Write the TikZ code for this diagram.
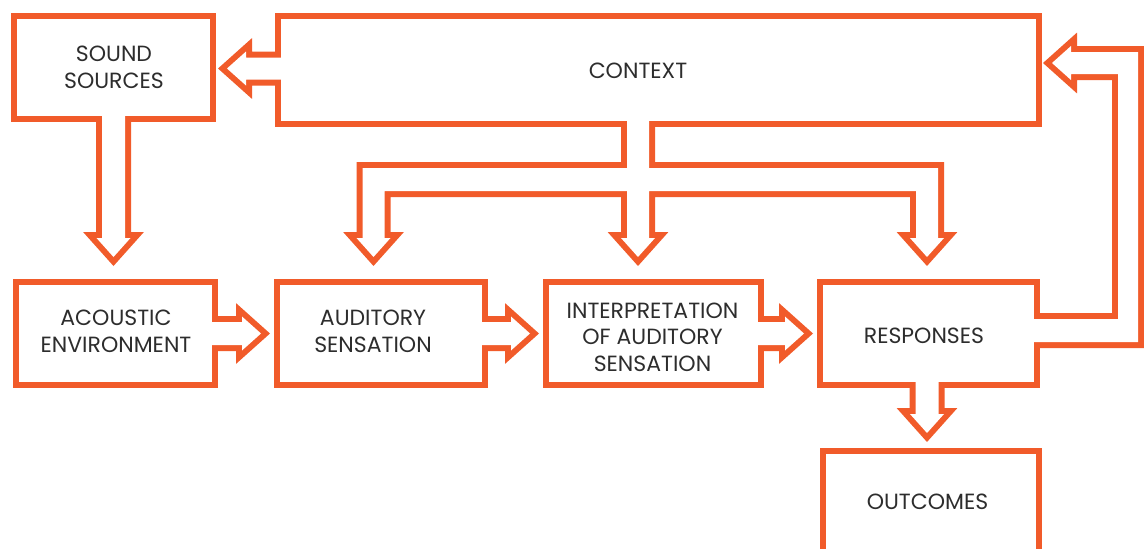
\documentclass[tikz,border=0pt]{standalone}
\usepackage{fontspec}
\setmainfont{Poppins}
\usetikzlibrary{calc,backgrounds}
\definecolor{brandorange}{RGB}{241,91,42}
\definecolor{txtgray}{RGB}{45,45,45}
% fat arrows: #1 options, #2 tail centre, #3 tip
\newcommand\fatdown[3]{\path[#1] ($(#2)+(-11.5,0)$) -- ($(#3)+(-11.5,-19)$) -- ($(#3)+(-17,-19)$) -- (#3) -- ($(#3)+(17,-19)$) -- ($(#3)+(11.5,-19)$) -- ($(#2)+(11.5,0)$) -- cycle;}
\newcommand\fatright[3]{\path[#1] ($(#2)+(0,-11.5)$) -- ($(#3)+(-19,-11.5)$) -- ($(#3)+(-19,-17)$) -- (#3) -- ($(#3)+(-19,17)$) -- ($(#3)+(-19,11.5)$) -- ($(#2)+(0,11.5)$) -- cycle;}
\newcommand\fatleft[3]{\path[#1] ($(#2)+(0,-11)$) -- ($(#3)+(19,-11)$) -- ($(#3)+(19,-17)$) -- (#3) -- ($(#3)+(19,17)$) -- ($(#3)+(19,11)$) -- ($(#2)+(0,11)$) -- cycle;}
\newcommand\allshapes[1]{%
  % boxes
  \path[#1] (ss.north west) rectangle (ss.south east);
  \path[#1] (ctx.north west) rectangle (ctx.south east);
  \path[#1] (ae.north west) rectangle (ae.south east);
  \path[#1] (as.north west) rectangle (as.south east);
  \path[#1] (ias.north west) rectangle (ias.south east);
  \path[#1] (rsp.north west) rectangle (rsp.south east);
  \path[#1] (out.north west) rectangle (out.south east);
  % straight fat arrows
  \fatdown{#1}{a1t}{a1h}
  \fatright{#1}{a2t}{a2h}
  \fatright{#1}{a3t}{a3h}
  \fatright{#1}{a4t}{a4h}
  \fatleft{#1}{a5t}{a5h}
  \fatdown{#1}{a6t}{a6h}
  % context tree
  \path[#1] ($(cstem)+(-11,-21)$)
    -- ($(cstem |- bandt)+(-11,0)$)
    -- ($(bl |- bandt)+(-11,0)$)
    -- ($(bl)+(-11,-19)$) -- ($(bl)+(-17,-19)$) -- (bl) -- ($(bl)+(17,-19)$) -- ($(bl)+(11,-19)$)
    -- ($(bl |- bandb)+(11,0)$)
    -- ($(cstem |- bandb)+(-11,0)$)
    -- ($(bm)+(-11,-19)$) -- ($(bm)+(-17,-19)$) -- (bm) -- ($(bm)+(17,-19)$) -- ($(bm)+(11,-19)$)
    -- ($(cstem |- bandb)+(11,0)$)
    -- ($(br |- bandb)+(-11,0)$)
    -- ($(br)+(-11,-19)$) -- ($(br)+(-17,-19)$) -- (br) -- ($(br)+(17,-19)$) -- ($(br)+(11,-19)$)
    -- ($(br |- bandt)+(11,0)$)
    -- ($(cstem |- bandt)+(11,0)$)
    -- ($(cstem)+(11,-21)$) -- cycle;
  % feedback pipe
  \path[#1] ($(fa)+(0,-11.5)$)
    -- ($(fc |- fa)+(-10,-11.5)$)
    -- ($(fc |- ft)+(-10,11)$)
    -- ($(ft)+(19,11)$) -- ($(ft)+(19,17)$) -- (ft) -- ($(ft)+(19,-17)$) -- ($(ft)+(19,-11)$)
    -- ($(fc |- ft)+(10,-11)$)
    -- ($(fc |- fa)+(10,11.5)$)
    -- ($(fa)+(0,11.5)$) -- cycle;
}
\begin{document}
\begin{tikzpicture}[x=1pt,y=-1pt,
  box/.style={rectangle, inner sep=0pt, outer sep=0pt},
  lbl/.style={align=center, inner sep=0pt, text=txtgray, font=\fontsize{22}{26.5}\selectfont},
  line join=miter]
\useasboundingbox (0,0) rectangle (1144,549);
% boxes (inner edge of the orange frame)
\node[box, minimum width=193pt, minimum height=97pt] (ss) at (113.5,67.5) {};
\node[box, minimum width=755pt, minimum height=102pt] (ctx) at (658.5,70) {};
\node[box, minimum width=193pt, minimum height=97pt] (ae) at (115.5,333.5) {};
\node[box, minimum width=202pt, minimum height=97pt] (as) at (381,333.5) {};
\node[box, minimum width=209pt, minimum height=97pt] (ias) at (653.5,333.5) {};
\node[box, minimum width=211pt, minimum height=97pt] (rsp) at (928.5,333.5) {};
\node[box, minimum width=210pt, minimum height=166pt] (out) at (931,537) {};
% labels
\node[lbl] (tss) at (114,67.5) {SOUND\\SOURCES};
\node[lbl] (tctx) at (638,71) {CONTEXT};
\node[lbl] (tae) at (116,331.5) {ACOUSTIC\\ENVIRONMENT};
\node[lbl] (tas) at (373,331.5) {AUDITORY\\SENSATION};
\node[lbl] (tias) at (652.5,337) {INTERPRETATION\\OF AUDITORY\\SENSATION};
\node[lbl] (trsp) at (924,335.5) {RESPONSES};
\node[lbl] (tout) at (927.5,502) {OUTCOMES};
% connector end points
\coordinate (a1t) at ($(ss.south)+(0,-16)$);
\coordinate (a1h) at ($(ss.south |- ae.north)+(0,-28)$);
\coordinate (a2t) at ($(ae.east)+(-20,0)$);
\coordinate (a2h) at ($(ae.east -| as.west)+(-19,0)$);
\coordinate (a3t) at ($(as.east)+(-20,0)$);
\coordinate (a3h) at ($(as.east -| ias.west)+(-19,0)$);
\coordinate (a4t) at ($(ias.east)+(-20,0)$);
\coordinate (a4h) at ($(ias.east -| rsp.west)+(-19,0)$);
\coordinate (a5t) at ($(ctx.west |- ss.east)+(19,1)$);
\coordinate (a5h) at ($(ss.east)+(17,1)$);
\coordinate (a6t) at ($(rsp.south)+(-1.5,-22)$);
\coordinate (a6h) at ($(rsp.south |- out.north)+(-1.5,-21)$);
\coordinate (cstem) at ($(ctx.south)+(-20.5,0)$);
\coordinate (bandt) at ($(ctx.south)+(0,47)$);
\coordinate (bandb) at ($(ctx.south)+(0,70)$);
\coordinate (bl) at ($(as.north)+(-7.5,-28)$);
\coordinate (bm) at (cstem |- bl);
\coordinate (br) at ($(rsp.north)+(-1.5,-28)$);
\coordinate (ft) at ($(ctx.east)+(16,-7)$);
\coordinate (fa) at ($(rsp.east)+(-24,-3)$);
\coordinate (fc) at ($(rsp.east)+(94,0)$);
\begin{scope}[on background layer]
  \allshapes{draw=brandorange, line width=12pt}
  \allshapes{fill=white}
\end{scope}
\end{tikzpicture}
\end{document}
